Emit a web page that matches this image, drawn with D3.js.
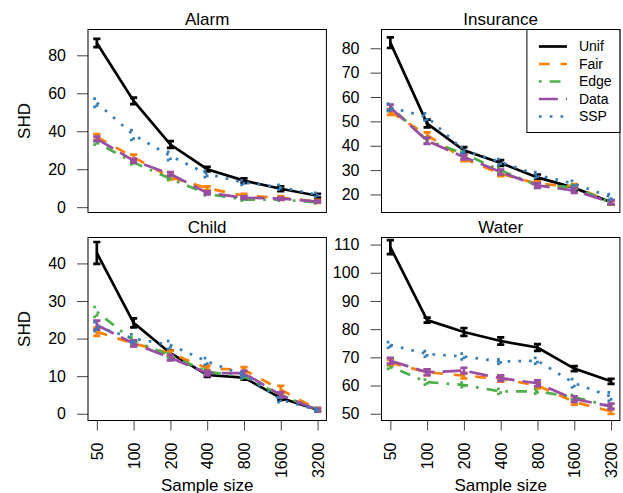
<!DOCTYPE html>
<html>
<head>
<meta charset="utf-8">
<script src="https://cdn.jsdelivr.net/npm/d3@7"></script>
<style>
  body { margin: 0; background: #fff; }
  svg { display: block; font-family: "Liberation Sans", Arial, sans-serif; }
</style>
</head>
<body>
<div id="chart"></div>
<script>
// sample sizes on the x axis
var sampleSizes = ["50", "100", "200", "400", "800", "1600", "3200"];
var methods = ["Unif", "Fair", "Edge", "Data", "SSP"];

// mean SHD, one row per method (Unif, Fair, Edge, Data, SSP)
var alarmMeans = [
  [86.5, 56.0, 33.0, 20.0, 14.0, 9.7, 6.0],
  [37.0, 26.3, 15.8, 10.0, 6.0, 5.0, 3.0],
  [34.0, 23.5, 15.0, 7.0, 4.0, 4.0, 2.5],
  [36.0, 24.5, 17.5, 7.5, 5.0, 4.5, 3.0],
  [55.0, 38.0, 27.0, 17.5, 13.0, 10.5, 6.5]
];
var alarmErrors = [
  [2.2, 1.7, 1.8, 1.2, 1.2, 1.3, 1.0],
  [1.5, 1.4, 1.2, 1.0, 1.0, 0.8, 0.8],
  [1.0, 1.0, 0.8, 0.8, 0.6, 0.6, 0.5],
  [1.2, 1.0, 1.0, 0.8, 0.7, 0.6, 0.5],
  [2.2, 2.6, 2.2, 1.7, 1.2, 1.3, 1.0]
];
var insuranceMeans = [
  [82.3, 49.1, 38.1, 32.9, 27.0, 22.7, 16.8],
  [53.9, 44.3, 34.7, 28.5, 24.4, 23.3, 16.8],
  [56.0, 42.2, 36.7, 29.9, 23.7, 23.0, 16.6],
  [55.7, 42.0, 35.4, 29.2, 23.7, 21.6, 16.8],
  [55.7, 51.8, 38.1, 33.3, 28.0, 24.4, 18.9]
];
var insuranceErrors = [
  [2.2, 1.6, 1.3, 1.2, 1.2, 1.0, 0.9],
  [1.2, 1.2, 1.0, 1.0, 1.0, 1.0, 0.8],
  [1.2, 1.2, 1.0, 1.0, 1.0, 1.0, 0.8],
  [1.2, 1.2, 1.0, 1.0, 1.0, 1.0, 0.8],
  [1.5, 1.5, 1.2, 1.2, 1.2, 1.2, 1.2]
];
var childMeans = [
  [42.8, 24.2, 16.1, 10.3, 9.6, 4.2, 1.1],
  [21.8, 18.7, 16.1, 12.1, 11.7, 6.4, 1.1],
  [27.1, 19.4, 15.5, 11.2, 9.9, 5.0, 1.0],
  [23.6, 18.7, 14.9, 10.8, 10.8, 5.0, 1.0],
  [23.2, 20.0, 18.3, 13.9, 10.3, 3.7, 1.0]
];
var childErrors = [
  [2.9, 1.2, 0.8, 0.5, 0.5, 0.5, 0.4],
  [1.1, 0.8, 0.7, 0.7, 0.7, 1.0, 0.4],
  [1.3, 0.9, 0.7, 0.7, 0.6, 0.6, 0.4],
  [1.2, 0.8, 0.7, 0.6, 0.6, 0.7, 0.4],
  [1.2, 1.1, 1.0, 0.9, 0.7, 0.6, 0.4]
];
var waterMeans = [
  [109.1, 83.2, 79.0, 75.8, 73.5, 66.0, 61.5],
  [68.1, 64.7, 63.5, 62.4, 60.0, 54.2, 50.8],
  [66.7, 61.2, 60.2, 57.9, 57.9, 55.9, 52.6],
  [68.8, 64.7, 65.3, 62.6, 60.8, 55.2, 52.6],
  [74.4, 71.2, 70.3, 68.5, 68.8, 60.8, 56.1]
];
var waterErrors = [
  [2.5, 0.9, 1.4, 1.3, 1.2, 0.9, 0.9],
  [1.0, 1.0, 1.0, 1.0, 1.0, 1.0, 0.9],
  [0.8, 0.9, 0.8, 0.9, 0.8, 0.8, 0.8],
  [1.0, 1.0, 1.0, 1.0, 1.0, 1.0, 1.0],
  [1.0, 1.0, 1.0, 0.8, 1.0, 1.5, 1.5]
];

var panelTitles = ["Alarm", "Insurance", "Child", "Water"];
var alarmTicks = [0, 20, 40, 60, 80];
var insuranceTicks = [20, 30, 40, 50, 60, 70, 80];
var childTicks = [0, 10, 20, 30, 40];
var waterTicks = [50, 60, 70, 80, 90, 100, 110];
// y limits as on the original axes
var alarmLim = [-2.8, 93.6];
var insuranceLim = [12.6, 87.7];
var childLim = [-1.8, 46.9];
var waterLim = [47.6, 112.5];

// style per method
var colors = ["#000000", "#FF7F00", "#4DAF4A", "#984EA3", "#377EB8"];
var lw = 2.7;
var dashes = [null, [4, 4], [1, 3, 4, 3], [7, 3], [1, 3]];
function dashStr(i) {
  return dashes[i] ? dashes[i].map(function(d) { return d * lw; }).join(",") : null;
}

var W = 623, H = 493;
var pw = 238.4, ph = 183;
var panels = [
  { title: panelTitles[0], means: alarmMeans, errs: alarmErrors, ticks: alarmTicks, lim: alarmLim, x0: 88, y0: 29.5, ylab: true, xaxis: false, legend: false },
  { title: panelTitles[1], means: insuranceMeans, errs: insuranceErrors, ticks: insuranceTicks, lim: insuranceLim, x0: 381.5, y0: 29.5, ylab: false, xaxis: false, legend: true },
  { title: panelTitles[2], means: childMeans, errs: childErrors, ticks: childTicks, lim: childLim, x0: 88, y0: 237.5, ylab: true, xaxis: true, legend: false },
  { title: panelTitles[3], means: waterMeans, errs: waterErrors, ticks: waterTicks, lim: waterLim, x0: 381.5, y0: 237.5, ylab: false, xaxis: true, legend: false },
];

var svg = d3.select("#chart").append("svg")
  .attr("width", W)
  .attr("height", H);

panels.forEach(function(p, pi) {
  var x = d3.scalePoint().domain(sampleSizes).range([p.x0, p.x0 + pw]).padding(0.24);
  var y = d3.scaleLinear().domain(p.lim).range([p.y0 + ph, p.y0]);
  var g = svg.append("g");

  var clipId = "clip" + pi;
  svg.append("clipPath").attr("id", clipId)
    .append("rect")
    .attr("x", p.x0).attr("y", p.y0).attr("width", pw).attr("height", ph);

  // title
  g.append("text")
    .attr("x", p.x0 + pw / 2)
    .attr("y", p.y0 - 5)
    .attr("text-anchor", "middle")
    .style("font-size", "17px")
    .text(p.title);

  // y axis
  var ya = g.append("g")
    .attr("transform", "translate(" + p.x0 + ",0)")
    .call(d3.axisLeft(y).tickValues(p.ticks).tickSize(11).tickPadding(11).tickFormat(d3.format("d")));
  ya.select(".domain").remove();
  ya.selectAll("line").attr("stroke", "#444");
  ya.selectAll("text").style("font-size", "16px").attr("fill", "#000").style("font-family", "Liberation Sans, Arial, sans-serif");

  if(p.ylab) {
    g.append("text")
      .attr("transform", "translate(24," + (p.y0 + ph / 2) + ") rotate(-90)")
      .attr("text-anchor", "middle")
      .attr("dy", "0.35em")
      .style("font-size", "17px")
      .text("SHD");
  }

  if(p.xaxis) {
    var xa = g.append("g")
      .attr("transform", "translate(0," + (p.y0 + ph) + ")")
      .call(d3.axisBottom(x).tickSize(10));
    xa.select(".domain").remove();
    xa.selectAll("line").attr("stroke", "#444");
    xa.selectAll("text")
      .attr("x", -22)
      .attr("y", 0)
      .attr("dy", "0.35em")
      .attr("transform", "rotate(-90)")
      .style("text-anchor", "end")
      .style("font-size", "16px")
      .style("font-family", "Liberation Sans, Arial, sans-serif")
      .attr("fill", "#000");
    g.append("text")
      .attr("x", p.x0 + pw / 2)
      .attr("y", 491)
      .attr("text-anchor", "middle")
      .style("font-size", "17px")
      .text("Sample size");
  }

  // series
  var plot = g.append("g").attr("clip-path", "url(#" + clipId + ")");
  var line = d3.line()
    .x(function(d, i) { return x(sampleSizes[i]); })
    .y(function(d) { return y(d); });
  p.means.forEach(function(vals, mi) {
    var sg = plot.append("g")
      .attr("stroke", colors[mi])
      .attr("stroke-width", lw)
      .attr("fill", "none")
      .attr("stroke-dasharray", dashStr(mi));
    sg.append("path").attr("d", line(vals));
    vals.forEach(function(v, i) {
      var cx = x(sampleSizes[i]);
      var e = p.errs[mi][i];
      var path = d3.path();
      path.moveTo(cx, y(v - e));
      path.lineTo(cx, y(v + e));
      path.moveTo(cx - 3.6, y(v + e));
      path.lineTo(cx + 3.6, y(v + e));
      path.moveTo(cx - 3.6, y(v - e));
      path.lineTo(cx + 3.6, y(v - e));
      sg.append("path").attr("d", path.toString());
    });
  });

  // box
  g.append("rect")
    .attr("x", p.x0).attr("y", p.y0).attr("width", pw).attr("height", ph)
    .attr("fill", "none").attr("stroke", "#000").attr("stroke-width", 1);

  if(p.legend) {
    var lx = p.x0 + pw - 93, ly = p.y0;
    var lg = g.append("g");
    lg.append("rect")
      .attr("x", lx).attr("y", ly).attr("width", 93).attr("height", 103)
      .attr("fill", "#fff").attr("stroke", "#000").attr("stroke-width", 1);
    methods.forEach(function(m, mi) {
      var ry = ly + 17 + mi * 17.5;
      lg.append("line")
        .attr("x1", lx + 12).attr("x2", lx + 40)
        .attr("y1", ry).attr("y2", ry)
        .attr("stroke", colors[mi])
        .attr("stroke-width", lw)
        .attr("stroke-dasharray", dashStr(mi));
      lg.append("text")
        .attr("x", lx + 52).attr("y", ry)
        .attr("dy", "0.35em")
        .style("font-size", "14px")
        .text(m);
    });
  }
});
</script>
</body>
</html>
